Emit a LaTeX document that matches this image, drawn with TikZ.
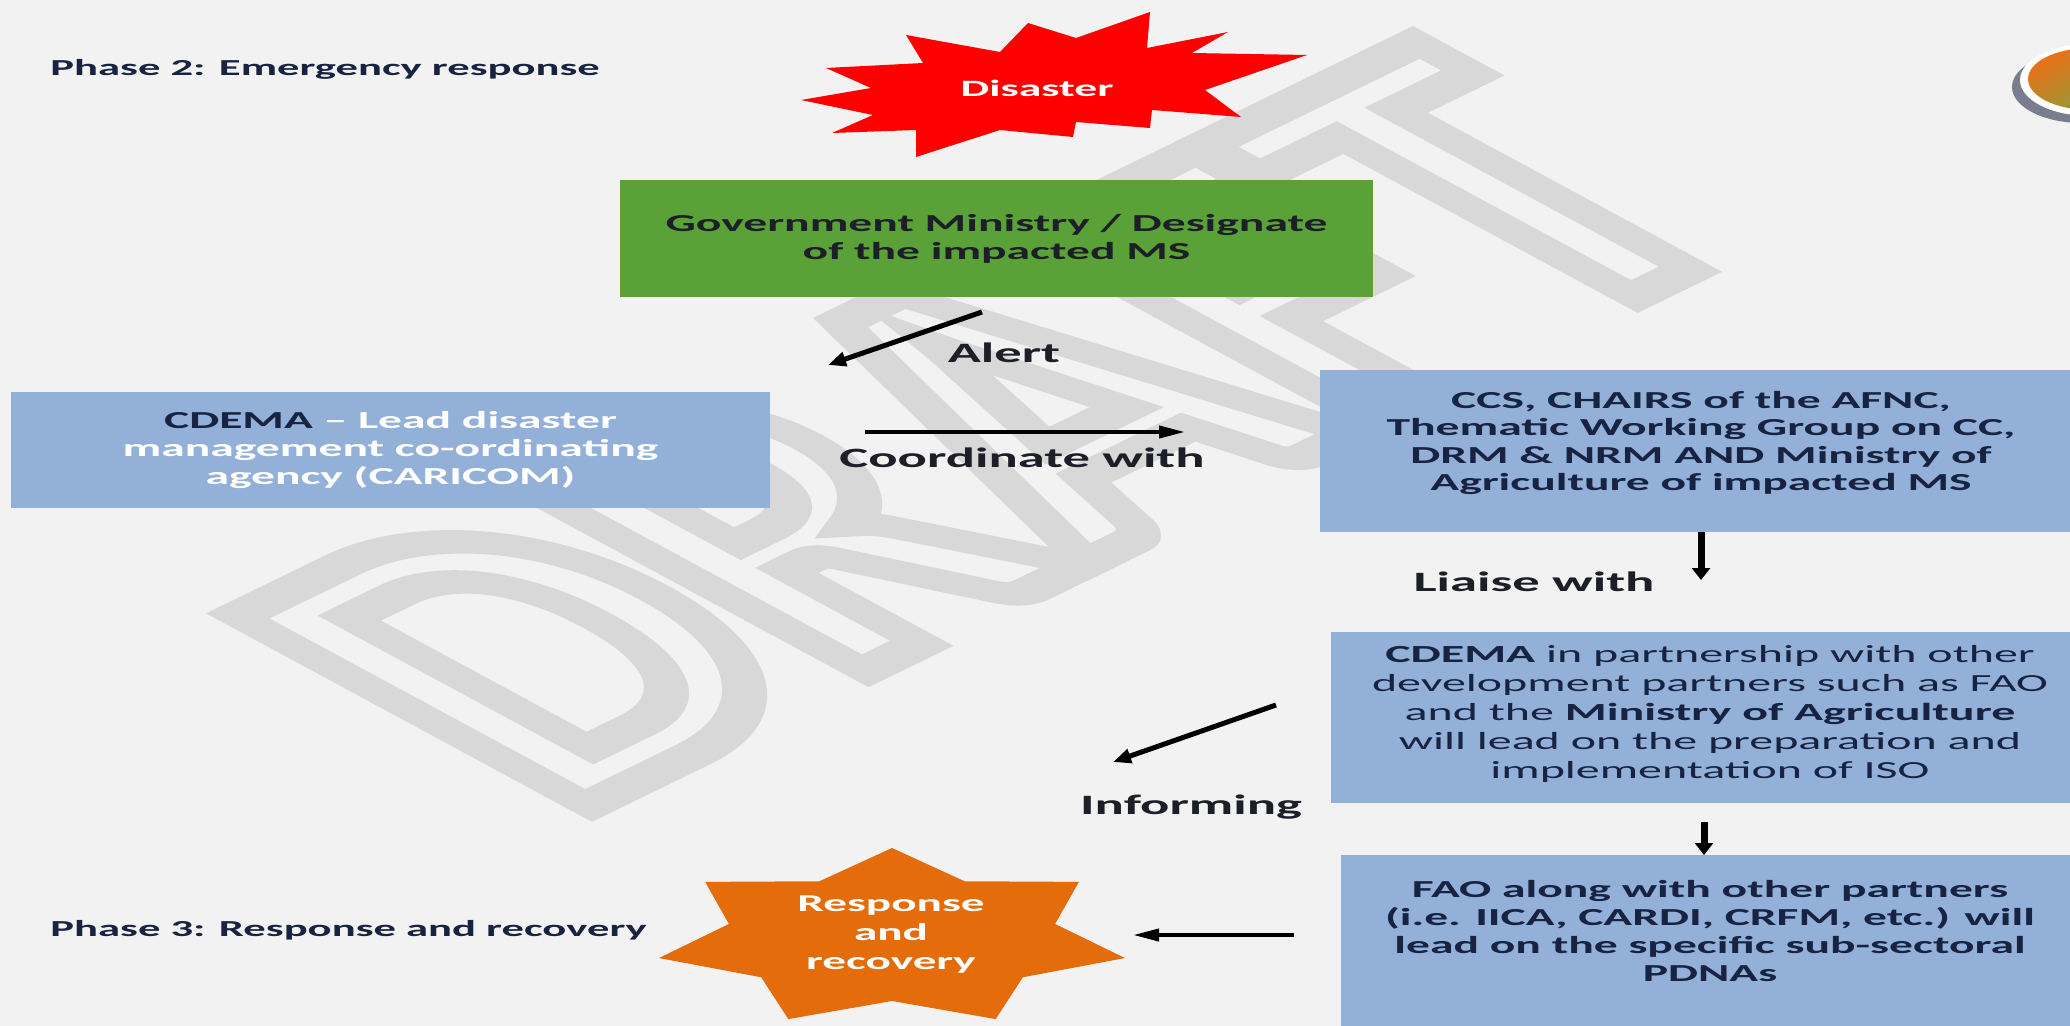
\documentclass[tikz,border=0pt]{standalone}
\usepackage{fontspec}
\setmainfont{Carlito}[FakeStretch=1.95]
\newfontfamily\wmfont{Carlito}
\usetikzlibrary{arrows.meta}
\definecolor{bg}{RGB}{242,242,242}
\definecolor{boxblue}{RGB}{146,176,216}
\definecolor{boxgreen}{RGB}{90,162,56}
\definecolor{starred}{RGB}{255,0,0}
\definecolor{starorange}{RGB}{228,108,10}
\definecolor{navy}{RGB}{23,35,64}
\definecolor{ink}{RGB}{28,30,40}
\definecolor{wm}{RGB}{216,216,216}
\definecolor{logoorange}{RGB}{236,112,24}
\definecolor{logogreen}{RGB}{120,168,64}
\definecolor{logoshadow}{RGB}{120,126,142}
\begin{document}
\begin{tikzpicture}[x=0.5pt,y=-0.5pt,
  bluebox/.style={fill=boxblue, inner sep=0pt},
  boxtext/.style={align=center, text=navy, inner sep=0pt, font=\fontsize{12.2}{14}\selectfont\bfseries},
  lbl/.style={text=ink, inner sep=0pt, font=\fontsize{14}{16}\selectfont\bfseries},
  phaselbl/.style={text=navy, inner sep=0pt, anchor=west, font=\fontsize{11.45}{13}\selectfont\bfseries},
  hconn/.style={line width=2pt, -{Triangle[length=13pt,width=6pt]}},
  dconn/.style={line width=2.5pt, -{Triangle[length=9pt,width=7pt]}},
  vconn/.style={line width=3.5pt, -{Triangle[length=6pt,width=9pt]}},
]
\useasboundingbox (0,0) rectangle (2070,1026);
\fill[bg] (0,0) rectangle (2070,1026);
\clip (0,0) rectangle (2070,1026);

% watermark
\begin{scope}[shift={(992,429)}, xscale=1.95, rotate=43.5, yscale=1.3]
  \node[transform shape, inner sep=0pt, text=wm, font=\wmfont\bfseries\fontsize{155}{155}\selectfont] (wm) at (0,0) {\special{pdf:literal direct 1 Tr 10 w}DRAFT\special{pdf:literal direct 0 Tr}};
\end{scope}

% logo
\fill[logoshadow] (2082,87) ellipse [x radius=70, y radius=36];
\fill[white] (2090,80) ellipse [x radius=70, y radius=36];
\shade[top color=logoorange, bottom color=logogreen, shading angle=30] (2090,79) ellipse [x radius=62, y radius=31];

% phase labels
\node[phaselbl] (ph2) at (50,69) {Phase 2: Emergency response};
\node[phaselbl] (ph3) at (50,930) {Phase 3: Response and recovery};

% disaster explosion
\fill[starred] (801,100) -- (871,88) -- (826,68) -- (923,63) -- (906,35) -- (1000,52) -- (1028,23) -- (1076,38) -- (1150,12) -- (1147,48) -- (1228,32) -- (1192,53) -- (1307,55) -- (1205,90) -- (1241,117) -- (1152,110) -- (1150,128) -- (1076,122) -- (1073,137) -- (1000,130) -- (916,157) -- (916,130) -- (832,133) -- (873,115) -- cycle;
\node[font=\fontsize{11.7}{13}\selectfont\bfseries, text=white, inner sep=0pt] (disaster) at (1037,88) {Disaster};

% boxes
\node[fill=boxgreen, boxtext, text=ink, minimum width=376.5pt, minimum height=58.5pt] (gov) at (996.5,238.5) {Government Ministry / Designate\\of the impacted MS};

\node[bluebox, boxtext, text=white, minimum width=379.5pt, minimum height=58pt] (cdema) at (390.5,450) {\textcolor{navy}{CDEMA} \textendash{} Lead disaster\\management co-ordinating\\agency (CARICOM)};

\node[bluebox, minimum width=381pt, minimum height=81pt] (ccs) at (1701,451) {};
\node[boxtext, font=\fontsize{12.2}{13.6}\selectfont\bfseries] (ccstext) at (1701,443) {CCS, CHAIRS of the AFNC,\\Thematic Working Group on CC,\\DRM \& NRM AND Ministry of\\Agriculture of impacted MS};

\node[bluebox, minimum width=379pt, minimum height=85.5pt] (iso) at (1710,717.5) {};
\node[boxtext, font=\fontsize{12.3}{14.4}\selectfont] (isotext) at (1710,714) {\textbf{CDEMA} in partnership with other\\development partners such as FAO\\and the \textbf{Ministry of Agriculture}\\will lead on the preparation and\\implementation of ISO};

\node[bluebox, minimum width=369pt, minimum height=90pt, anchor=north] (fao) at (1710,855) {};
\node[boxtext, font=\fontsize{12.2}{14.15}\selectfont\bfseries] (faotext) at (1710,931) {FAO along with other partners\\(i.e. IICA, CARDI, CRFM, etc.) will\\lead on the specific sub-sectoral\\PDNAs};

% response star
\fill[starorange] ({892+239*cos(90)},{938-90*sin(90)}) \foreach \i in {0,...,6} { -- ({892+167.3*cos(64.2857-51.4286*\i)},{938-63*sin(64.2857-51.4286*\i)}) -- ({892+239*cos(38.5714-51.4286*\i)},{938-90*sin(38.5714-51.4286*\i)}) } -- cycle;
\node[font=\fontsize{12.1}{14.5}\selectfont\bfseries, text=white, align=center, inner sep=0pt] (resp) at (891,935) {Response\\and\\recovery};

% connector labels
\node[lbl] (alertlbl) at (1004,353) {Alert};
\node[lbl] (coordlbl) at (1022,458) {Coordinate with};
\node[lbl] (liaiselbl) at (1534,582) {Liaise with};
\node[lbl] (informlbl) at (1191,807) {Informing};

% connectors
\coordinate (a1s) at (982,312); \coordinate (a1e) at (828,365);
\coordinate (c1s) at (865,432); \coordinate (c1e) at (1185,432);
\coordinate (l1e) at (1701,580);
\coordinate (i1s) at (1276,705); \coordinate (i1e) at (1113,762);
\coordinate (d2s) at (1704,822);
\coordinate (r1s) at (1294,935); \coordinate (r1e) at (1133,935);

\draw[dconn] (a1s) -- (a1e);
\draw[hconn] (c1s) -- (c1e);
\draw[vconn] (ccs.south) -- (l1e);
\draw[dconn] (i1s) -- (i1e);
\draw[vconn] (d2s) -- (d2s |- fao.north);
\draw[hconn] (r1s) -- (r1e);
\end{tikzpicture}
\end{document}
